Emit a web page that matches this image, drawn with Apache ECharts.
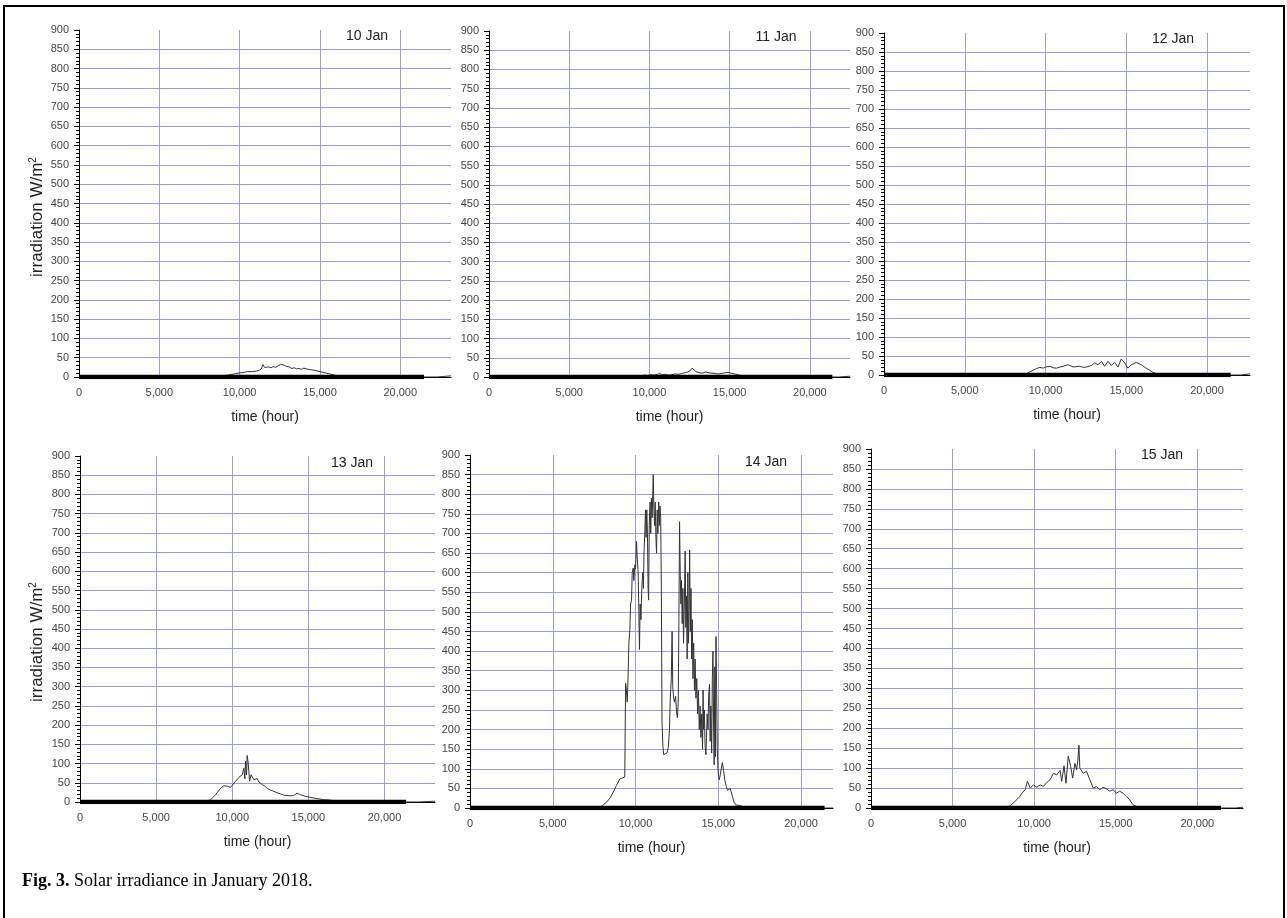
<!DOCTYPE html>
<html>
<head>
<meta charset="utf-8">
<title>Solar irradiance in January 2018</title>
<script src="https://cdn.jsdelivr.net/npm/echarts@6/dist/echarts.min.js"></script>
<style>
    html, body { margin: 0; padding: 0; background: #fff; }
    #chart { width: 1287px; height: 918px; }
</style>
</head>
<body>
<div id="chart"></div>
<script>
// day names shown in each panel
var days = ['10 Jan', '11 Jan', '12 Jan', '13 Jan', '14 Jan', '15 Jan'];

// [time, irradiation W/m2]
var jan10 = [[8500,0],[8700,1],[8900,2],[9100,4],[9300,5],[9500,7],[9700,8],[9900,10],[10100,11],[10300,12],[10500,14],[10600,16],[10800,14],[11000,15],[11200,17],[11350,21],[11450,32],[11550,25],[11650,27],[11800,26],[11950,24],[12100,27],[12250,25],[12400,29],[12550,33],[12650,28],[12800,30],[12950,27],[13100,26],[13250,22],[13400,24],[13550,21],[13700,22],[13850,20],[14000,23],[14100,26],[14250,20],[14400,19],[14600,18],[14800,16],[15000,14],[15200,12],[15400,10],[15600,8],[15800,6],[16000,4],[16200,3],[16400,2],[16600,1],[16800,0],[22300,0],[22350,3],[23160,3]];
var jan11 = [[8900,0],[9100,3],[9300,4],[9500,3],[9700,5],[9900,4],[10100,6],[10300,5],[10500,7],[10650,9],[10800,6],[11000,7],[11200,5],[11400,6],[11600,8],[11800,7],[12000,9],[12200,11],[12400,13],[12550,17],[12650,23],[12750,19],[12900,14],[13100,11],[13300,10],[13500,13],[13700,11],[13900,10],[14100,9],[14300,8],[14500,9],[14700,11],[14900,12],[15100,10],[15300,8],[15500,6],[15700,4],[15900,3],[16100,2],[16300,0],[21800,0],[21850,2],[22500,2]];
var jan12 = [[8620,0],[9030,8],[9440,17],[9650,20],[9750,23],[9860,18],[10000,21],[10270,23],[10480,19],[10680,18],[10900,21],[11090,23],[11400,27],[11710,21],[11900,22],[12120,23],[12330,20],[12530,21],[12840,25],[13050,32],[13250,27],[13460,36],[13660,23],[13870,36],[14070,25],[14280,33],[14490,21],[14690,42],[14900,32],[15100,18],[15310,27],[15620,33],[15930,27],[16230,18],[16650,7],[16950,2],[17100,0],[22100,0],[22150,2],[22660,3]];
var jan13 = [[8140,0],[8580,6],[8910,19],[9240,36],[9450,42],[9670,41],[9890,38],[10000,36],[10220,54],[10440,64],[10550,61],[10660,71],[10760,88],[10830,60],[10870,106],[10940,70],[10980,121],[11050,101],[11140,54],[11240,71],[11420,58],[11640,61],[11750,52],[11860,54],[11970,45],[12120,42],[12290,36],[12510,31],[12730,28],[12950,24],[13170,21],[13380,18],[13600,17],[13820,16],[14040,17],[14260,23],[14480,19],[14800,15],[15130,12],[15570,9],[16000,6],[16440,5],[16660,3],[16880,0],[22200,0],[22250,2],[23320,2]];
var jan14 = [[7730,0],[8000,6],[8250,15],[8450,25],[8650,40],[8850,58],[9050,74],[9150,78],[9350,79],[9390,82],[9400,318],[9450,300],[9500,270],[9540,320],[9600,420],[9660,455],[9700,520],[9760,530],[9800,600],[9860,612],[9900,580],[9960,620],[10000,610],[10060,680],[10100,640],[10160,600],[10200,500],[10240,404],[10280,520],[10330,480],[10370,550],[10430,600],[10480,560],[10510,650],[10560,700],[10600,760],[10640,690],[10680,760],[10720,700],[10760,560],[10790,530],[10830,720],[10880,780],[10920,700],[10960,790],[11000,740],[11040,800],[11070,850],[11110,760],[11150,720],[11190,780],[11230,690],[11270,650],[11310,760],[11350,700],[11400,780],[11440,720],[11480,770],[11520,740],[11560,560],[11600,220],[11650,160],[11700,136],[11800,132],[11900,140],[11980,155],[12050,200],[12100,280],[12160,330],[12210,450],[12250,310],[12300,280],[12350,270],[12420,285],[12480,245],[12530,230],[12580,270],[12620,480],[12660,730],[12700,600],[12740,520],[12780,580],[12820,470],[12860,560],[12900,420],[12950,520],[13000,655],[13040,460],[13080,540],[13120,380],[13160,600],[13200,420],[13240,520],[13270,658],[13310,450],[13350,560],[13390,380],[13430,480],[13470,330],[13510,420],[13560,300],[13600,380],[13650,280],[13700,330],[13750,240],[13800,300],[13850,200],[13900,260],[13950,180],[14000,240],[14050,150],[14080,301],[14120,200],[14160,250],[14200,160],[14250,136],[14290,180],[14330,240],[14380,200],[14420,290],[14470,315],[14510,170],[14550,260],[14600,140],[14640,330],[14680,400],[14720,200],[14750,110],[14790,360],[14830,130],[14860,437],[14900,300],[14940,150],[14980,100],[15020,80],[15060,72],[15120,85],[15180,100],[15250,116],[15320,95],[15400,70],[15480,55],[15560,45],[15640,40],[15720,50],[15780,52],[15850,30],[15950,15],[16050,8],[16300,6],[16600,3],[16900,0],[21930,0]];
var jan15 = [[8130,0],[8540,6],[8940,21],[9100,28],[9250,37],[9450,46],[9590,67],[9760,50],[9960,58],[10160,52],[10370,58],[10570,54],[10770,64],[10980,71],[11180,87],[11380,83],[11590,94],[11690,67],[11830,106],[11950,62],[12090,130],[12240,104],[12360,75],[12500,112],[12600,96],[12680,120],[12740,158],[12800,100],[13010,87],[13210,92],[13410,71],[13620,50],[13820,54],[14020,46],[14230,52],[14430,48],[14630,42],[14840,46],[15040,37],[15240,42],[15450,37],[15650,29],[15850,21],[16060,8],[16360,2],[16900,0],[22330,0],[22380,2],[22800,2]];

var dayData = [jan10, jan11, jan12, jan13, jan14, jan15];
// where the heavy zero trace stops in each panel
var baselineEnd = [21480, 21400, 21460, 21420, 21420, 21450];

var gridColor = '#9c9cd8';
var font = '"Liberation Sans", Arial, sans-serif';

// panel placement on the page
var panels = [
    {left: 79,  top: 30,  width: 372, height: 347, xMax: 23160, tag: [367, 36]},
    {left: 489, top: 31,  width: 361, height: 346, xMax: 22500, tag: [776, 37]},
    {left: 884, top: 33,  width: 366, height: 342, xMax: 22660, tag: [1173, 39]},
    {left: 80,  top: 456, width: 355, height: 346, xMax: 23320, tag: [352, 463]},
    {left: 470, top: 455, width: 363, height: 353, xMax: 21930, tag: [766, 462]},
    {left: 871, top: 449, width: 372, height: 359, xMax: 22800, tag: [1162, 455]}
];

var fmt = function (v) {
    return v.toLocaleString('en-US');
};

var grid = [], xAxis = [], yAxis = [], series = [], graphic = [];

panels.forEach(function (p, i) {
    grid.push({left: p.left, top: p.top, width: p.width, height: p.height});
    xAxis.push({
        type: 'value', gridIndex: i, min: 0, max: p.xMax, interval: 5000,
        name: 'time (hour)', nameLocation: 'middle', nameGap: 33,
        nameTextStyle: {fontSize: 14, color: '#222', fontFamily: font},
        axisLine: {onZero: false, lineStyle: {color: '#000', width: 1}},
        axisTick: {show: false},
        axisLabel: {fontSize: 11, color: '#444', margin: 10, showMaxLabel: false, formatter: fmt, fontFamily: font},
        splitLine: {show: true, showMinLine: false, showMaxLine: false, lineStyle: {color: gridColor, width: 1}}
    });
    yAxis.push({
        type: 'value', gridIndex: i, min: 0, max: 900, interval: 50,
        axisLine: {show: true, lineStyle: {color: '#000', width: 1}},
        axisTick: {show: true, length: 5, lineStyle: {color: '#000'}},
        minorTick: {show: true, splitNumber: 5, length: 3, lineStyle: {color: '#000'}},
        axisLabel: {fontSize: 11, color: '#444', margin: 10, fontFamily: font},
        splitLine: {show: true, showMinLine: false, showMaxLine: false, lineStyle: {color: gridColor, width: 1}}
    });
    series.push({
        type: 'line', xAxisIndex: i, yAxisIndex: i, data: dayData[i],
        symbol: 'none', lineStyle: {color: '#333', width: 1}, z: 3
    });
    series.push({
        type: 'line', xAxisIndex: i, yAxisIndex: i, data: [[0, 0], [baselineEnd[i], 0]],
        symbol: 'none', lineStyle: {color: '#000', width: 4.5}, z: 4
    });
    graphic.push({
        type: 'text', x: p.tag[0], y: p.tag[1], silent: true,
        style: {text: days[i], font: '14px ' + font, fill: '#222', align: 'center', verticalAlign: 'middle'}
    });
});

// y axis titles, left column only
[217, 642].forEach(function (y) {
    graphic.push({
        type: 'text', x: 37, y: y, rotation: Math.PI / 2, silent: true,
        style: {
            text: 'irradiation W/m{sup|2}', font: '17px ' + font, fill: '#222',
            align: 'center', verticalAlign: 'middle',
            rich: {sup: {fontSize: 10, fontFamily: font, fill: '#222', verticalAlign: 'top'}}
        }
    });
});

graphic.push({
    type: 'text', x: 22, y: 881, silent: true,
    style: {
        text: '{b|Fig. 3.} Solar irradiance in January 2018.',
        font: '18px "Liberation Serif", "Times New Roman", serif', fill: '#000', verticalAlign: 'middle',
        rich: {b: {fontWeight: 'bold', fontSize: 18, fontFamily: '"Liberation Serif", serif', fill: '#000'}}
    }
});

graphic.push({
    type: 'rect', silent: true,
    shape: {x: 4, y: 6, width: 1280, height: 1000},
    style: {fill: null, stroke: '#000', lineWidth: 2}
});

var chart = echarts.init(document.getElementById('chart'));
chart.setOption({
    animation: false,
    backgroundColor: '#fff',
    textStyle: {fontFamily: font},
    grid: grid,
    xAxis: xAxis,
    yAxis: yAxis,
    series: series,
    graphic: graphic
});
</script>
</body>
</html>
